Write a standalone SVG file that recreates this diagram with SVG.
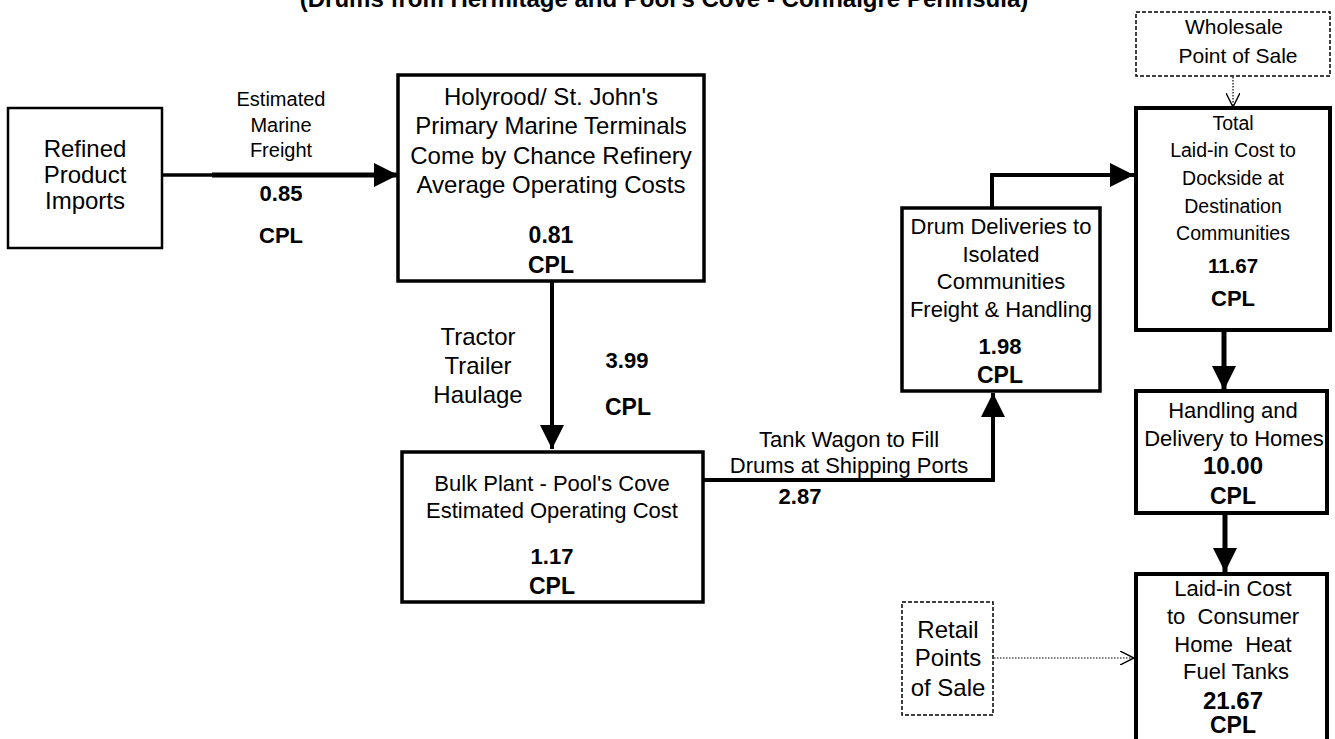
<svg xmlns="http://www.w3.org/2000/svg" width="1335" height="739" viewBox="0 0 1335 739">
<defs>
<style>
.t{font-family:"Liberation Sans",Arial,sans-serif;font-size:22px;fill:#000;text-anchor:middle}
.b{font-weight:bold}
.box{fill:#fff;stroke:#000}
.dash{fill:#fff;stroke:#000;stroke-width:1.5;stroke-dasharray:4 2}
.ln{fill:none;stroke:#000}
.dot{fill:none;stroke:#000;stroke-width:1.2;stroke-dasharray:1.5 1.5}
</style>
<marker id="ah" viewBox="0 0 10 10" refX="10" refY="5" markerWidth="24" markerHeight="24" markerUnits="userSpaceOnUse" orient="auto"><path d="M0,0 L10,5 L0,10 Z" fill="#000"/></marker>
<marker id="oh" viewBox="0 0 10 10" refX="10" refY="5" markerWidth="14" markerHeight="14" markerUnits="userSpaceOnUse" orient="auto"><path d="M0,0 L10,5 L0,10" fill="none" stroke="#000" stroke-width="1"/></marker>
</defs>
<rect width="1335" height="739" fill="#fff"/>
<text class="t b" x="664" y="7" style="font-size:24px">(Drums from Hermitage and Pool's Cove - Connaigre Peninsula)</text>

<g id="connectors">
<line class="ln" x1="162" y1="175" x2="215" y2="175" stroke-width="3.5"/>
<line class="ln" x1="212" y1="175" x2="398" y2="175" stroke-width="5" marker-end="url(#ah)"/>
<line class="ln" x1="552" y1="281" x2="552" y2="449" stroke-width="4" marker-end="url(#ah)"/>
<polyline class="ln" points="703,480 993,480 993,393" stroke-width="4" marker-end="url(#ah)"/>
<polyline class="ln" points="992,208 992,175 1134,175" stroke-width="4" marker-end="url(#ah)"/>
<line class="ln" x1="1224" y1="330" x2="1224" y2="390" stroke-width="5" marker-end="url(#ah)"/>
<line class="ln" x1="1225" y1="513" x2="1225" y2="572" stroke-width="5" marker-end="url(#ah)"/>
<line class="dot" x1="1233" y1="77" x2="1233" y2="107" marker-end="url(#oh)"/>
<line class="dot" x1="994" y1="658" x2="1134" y2="658" marker-end="url(#oh)"/>
</g>

<g id="edge-labels">
<text class="t" x="281" y="106" style="font-size:20px">Estimated</text>
<text class="t" x="281" y="132" style="font-size:20px">Marine</text>
<text class="t" x="281" y="157" style="font-size:20px">Freight</text>
<text class="t b" x="281" y="201">0.85</text>
<text class="t b" x="281" y="243">CPL</text>
<text class="t" x="478" y="345" style="font-size:24px">Tractor</text>
<text class="t" x="478" y="374" style="font-size:24px">Trailer</text>
<text class="t" x="478" y="403" style="font-size:24px">Haulage</text>
<text class="t b" x="627" y="368">3.99</text>
<text class="t b" x="628" y="415" style="font-size:23px">CPL</text>
<text class="t" x="849" y="447">Tank Wagon to Fill</text>
<text class="t" x="849" y="473">Drums at Shipping Ports</text>
<text class="t b" x="800" y="504">2.87</text>
</g>

<g id="refined">
<rect class="box" x="8" y="108" width="154" height="140" stroke-width="2.5"/>
<text class="t" x="85" y="157" style="font-size:24px">Refined</text>
<text class="t" x="85" y="183" style="font-size:24px">Product</text>
<text class="t" x="85" y="209" style="font-size:24px">Imports</text>
</g>

<g id="holyrood">
<rect class="box" x="398" y="75" width="306" height="206" stroke-width="3.5"/>
<text class="t" x="551" y="105" style="font-size:24px">Holyrood/ St. John's</text>
<text class="t" x="551" y="134" style="font-size:24px">Primary Marine Terminals</text>
<text class="t" x="551" y="164" style="font-size:24px">Come by Chance Refinery</text>
<text class="t" x="551" y="193" style="font-size:24px">Average Operating Costs</text>
<text class="t b" x="551" y="243" style="font-size:23px">0.81</text>
<text class="t b" x="551" y="273" style="font-size:23px">CPL</text>
</g>

<g id="bulk">
<rect class="box" x="402" y="452" width="301" height="150" stroke-width="3.5"/>
<text class="t" x="552" y="491">Bulk Plant - Pool's Cove</text>
<text class="t" x="552" y="518">Estimated Operating Cost</text>
<text class="t b" x="552" y="564">1.17</text>
<text class="t b" x="552" y="594" style="font-size:23px">CPL</text>
</g>

<g id="drum">
<rect class="box" x="902" y="208" width="198" height="183" stroke-width="3.5"/>
<text class="t" x="1001" y="234">Drum Deliveries to</text>
<text class="t" x="1001" y="262">Isolated</text>
<text class="t" x="1001" y="289">Communities</text>
<text class="t" x="1001" y="317">Freight &amp; Handling</text>
<text class="t b" x="1000" y="354">1.98</text>
<text class="t b" x="1000" y="383" style="font-size:23px">CPL</text>
</g>

<g id="wholesale">
<rect class="dash" x="1136" y="12" width="194" height="64"/>
<text class="t" x="1234" y="34" style="font-size:21px">Wholesale</text>
<text class="t" x="1238" y="63" style="font-size:21px">Point of Sale</text>
</g>

<g id="total">
<rect class="box" x="1136" y="108" width="194" height="222" stroke-width="4"/>
<text class="t" x="1233" y="130" style="font-size:19.5px">Total</text>
<text class="t" x="1233" y="157" style="font-size:19.5px">Laid-in Cost to</text>
<text class="t" x="1233" y="185" style="font-size:19.5px">Dockside at</text>
<text class="t" x="1233" y="213" style="font-size:19.5px">Destination</text>
<text class="t" x="1233" y="240" style="font-size:19.5px">Communities</text>
<text class="t b" x="1233" y="273" style="font-size:20.5px">11.67</text>
<text class="t b" x="1233" y="306">CPL</text>
</g>

<g id="handling">
<rect class="box" x="1136" y="391" width="191" height="122" stroke-width="4"/>
<text class="t" x="1233" y="418">Handling and</text>
<text class="t" x="1234" y="446">Delivery to Homes</text>
<text class="t b" x="1233" y="474" style="font-size:24px">10.00</text>
<text class="t b" x="1233" y="504" style="font-size:23px">CPL</text>
</g>

<g id="consumer">
<rect class="box" x="1136" y="574" width="191" height="180" stroke-width="4"/>
<text class="t" x="1233" y="596">Laid-in Cost</text>
<text class="t" x="1233" y="624" xml:space="preserve">to  Consumer</text>
<text class="t" x="1233" y="652" xml:space="preserve">Home  Heat</text>
<text class="t" x="1236" y="679">Fuel Tanks</text>
<text class="t b" x="1233" y="709" style="font-size:24px">21.67</text>
<text class="t b" x="1233" y="733" style="font-size:23px">CPL</text>
</g>

<g id="retail">
<rect class="dash" x="902" y="602" width="91" height="113"/>
<text class="t" x="948" y="638" style="font-size:24px">Retail</text>
<text class="t" x="948" y="666" style="font-size:24px">Points</text>
<text class="t" x="948" y="696" style="font-size:24px">of Sale</text>
</g>
</svg>
